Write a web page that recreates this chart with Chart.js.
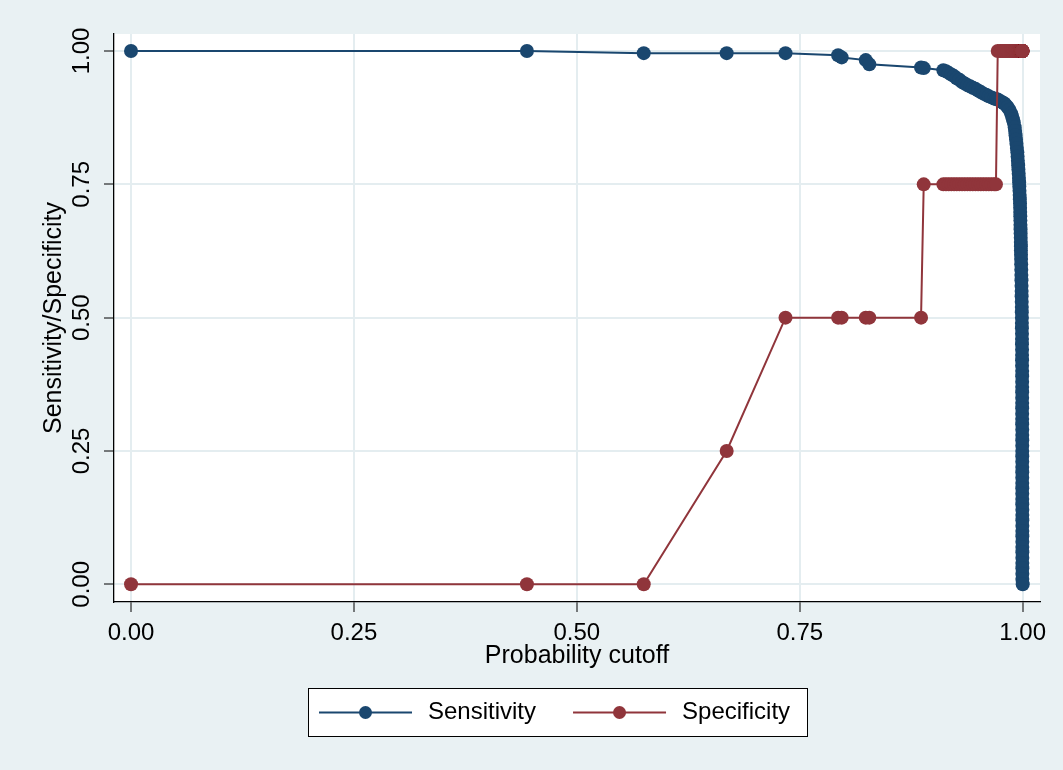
<!DOCTYPE html>
<html>
<head>
<meta charset="utf-8">
<script src="https://cdn.jsdelivr.net/npm/chart.js@4.4.1/dist/chart.umd.min.js"></script>
<style>
  html, body { margin: 0; padding: 0; background: #E9F1F3; }
  #wrap { width: 1063px; height: 770px; }
</style>
</head>
<body>
<div id="wrap"><canvas id="lsensChart" width="1063" height="770"></canvas></div>
<script>
// -------- DATA --------
const cutoffs = [
  0, 0.444, 0.575, 0.668, 0.734, 0.793, 0.797, 0.824, 0.828, 0.886, 0.889,
  // spec = 0.75 run
  0.911, 0.914, 0.917, 0.920, 0.923, 0.926, 0.929, 0.932, 0.935, 0.938,
  0.941, 0.944, 0.947, 0.950, 0.953, 0.956, 0.959, 0.962, 0.965, 0.968, 0.970,
  // spec = 1 run, sensitivity bending down
  0.972, 0.975, 0.977, 0.979, 0.981, 0.983, 0.985, 0.987, 0.988, 0.989, 0.990, 0.991,
  0.9915, 0.992, 0.9925, 0.993, 0.9935, 0.994, 0.9943, 0.9946, 0.9949, 0.9952,
  0.9955, 0.9958, 0.996, 0.9962, 0.9964, 0.9966, 0.9968, 0.997, 0.9971, 0.9972,
  0.9973, 0.9974, 0.9975, 0.9976, 0.9977, 0.9978, 0.9979, 0.998, 0.998, 0.9981,
  0.9982, 0.9983, 0.9984, 0.9985, 0.9986, 0.9987, 0.9988, 0.9988, 0.9989, 0.999,
  0.999, 0.9991,
  // near-vertical drop at cutoff ~1
  0.9991, 0.9991, 0.9992, 0.9992, 0.9992, 0.9993, 0.9993, 0.9993, 0.9993, 0.9994,
  0.9994, 0.9994, 0.9994, 0.9994, 0.9994, 0.9994, 0.9994, 0.9994, 0.9994, 0.9994,
  0.9995, 0.9995, 0.9995, 0.9995, 0.9995, 0.9995, 0.9995, 0.9995, 0.9995, 0.9995,
  0.9995, 0.9995, 0.9995, 0.9995, 0.9995, 0.9996, 0.9996, 0.9996, 0.9996, 0.9996,
  0.9996, 0.9996, 0.9996, 0.9996, 0.9996, 0.9996, 0.9996, 0.9996, 0.9996, 1.0
];

const sensitivity = [
  1.000, 1.000, 0.996, 0.996, 0.996, 0.992, 0.988, 0.983, 0.975, 0.969, 0.968,
  0.964, 0.962, 0.959, 0.956, 0.953, 0.949, 0.946, 0.942, 0.939, 0.936,
  0.934, 0.931, 0.929, 0.926, 0.923, 0.920, 0.918, 0.915, 0.913, 0.911, 0.910,
  0.909, 0.906, 0.904, 0.902, 0.899, 0.895, 0.890, 0.883, 0.878, 0.872, 0.866, 0.857,
  0.850, 0.842, 0.834, 0.826, 0.818, 0.810, 0.802, 0.794, 0.786, 0.778,
  0.770, 0.762, 0.754, 0.746, 0.738, 0.730, 0.722, 0.714, 0.706, 0.698,
  0.690, 0.682, 0.674, 0.666, 0.658, 0.650, 0.642, 0.634, 0.626, 0.618,
  0.610, 0.600, 0.590, 0.580, 0.570, 0.560, 0.550, 0.540, 0.530, 0.520,
  0.510, 0.500,
  0.490, 0.480, 0.470, 0.460, 0.450, 0.440, 0.430, 0.420, 0.410, 0.400,
  0.390, 0.380, 0.370, 0.360, 0.350, 0.340, 0.330, 0.320, 0.310, 0.300,
  0.290, 0.280, 0.270, 0.260, 0.250, 0.240, 0.230, 0.220, 0.210, 0.200,
  0.190, 0.180, 0.170, 0.160, 0.150, 0.140, 0.130, 0.120, 0.110, 0.100,
  0.090, 0.080, 0.070, 0.060, 0.050, 0.040, 0.030, 0.020, 0.010, 0.000
];

const specificity = [
  0, 0, 0, 0.25, 0.5, 0.5, 0.5, 0.5, 0.5, 0.5, 0.75,
  0.75, 0.75, 0.75, 0.75, 0.75, 0.75, 0.75, 0.75, 0.75, 0.75,
  0.75, 0.75, 0.75, 0.75, 0.75, 0.75, 0.75, 0.75, 0.75, 0.75, 0.75,
  1, 1, 1, 1, 1, 1, 1, 1, 1, 1, 1, 1, 1,
  1, 1, 1, 1, 1, 1, 1, 1, 1, 1, 1, 1, 1,
  1, 1, 1, 1, 1, 1, 1, 1, 1, 1, 1, 1, 1,
  1, 1, 1, 1, 1, 1, 1, 1, 1, 1, 1, 1, 1,
  1, 1, 1, 1, 1, 1, 1, 1, 1, 1, 1, 1, 1,
  1, 1, 1, 1, 1, 1, 1, 1, 1, 1, 1, 1, 1,
  1, 1, 1, 1, 1, 1, 1, 1, 1, 1, 1, 1, 1,
  1, 1, 1, 1, 1, 1, 1, 1, 1, 1, 1, 1, 1
];

const axisTicks = [0, 0.25, 0.5, 0.75, 1];
const seriesNames = ['Sensitivity', 'Specificity'];
const seriesColors = ['#1A476F', '#90353B'];

const FONT = "'Liberation Sans', Arial, sans-serif";
const BG = '#E9F1F3';

// -------- PLUGINS --------
// light graph region + white plot region
const backdrop = {
  id: 'backdrop',
  beforeDraw(chart) {
    const { ctx, chartArea: a } = chart;
    ctx.save();
    ctx.fillStyle = BG;
    ctx.fillRect(0, 0, chart.width, chart.height);
    ctx.fillStyle = '#fff';
    ctx.fillRect(a.left, a.top, a.right - a.left, a.bottom - a.top);
    ctx.restore();
  }
};

// Stata style legend: framed box, line with marker in the middle
const boxLegend = {
  id: 'boxLegend',
  afterDraw(chart) {
    const ctx = chart.ctx;
    const left = 308, top = 688, w = 500, h = 49;
    const midY = top + h / 2;
    ctx.save();
    ctx.fillStyle = '#fff';
    ctx.fillRect(left, top, w, h);
    ctx.strokeStyle = '#000';
    ctx.lineWidth = 1;
    ctx.strokeRect(left + 0.5, top + 0.5, w - 1, h - 1);
    ctx.font = '24px ' + FONT;
    ctx.textBaseline = 'middle';
    let x = left + 11;
    chart.data.datasets.forEach(ds => {
      ctx.strokeStyle = ds.borderColor;
      ctx.lineWidth = 2;
      ctx.beginPath();
      ctx.moveTo(x, midY);
      ctx.lineTo(x + 93, midY);
      ctx.stroke();
      ctx.fillStyle = ds.backgroundColor;
      ctx.beginPath();
      ctx.arc(x + 46.5, midY, 6.5, 0, Math.PI * 2);
      ctx.fill();
      ctx.fillStyle = '#000';
      ctx.fillText(ds.label, x + 109, midY);
      x += 109 + ctx.measureText(ds.label).width + 37;
    });
    ctx.restore();
  }
};

// -------- CHART --------
const makeSeries = (values, i, order) => ({
  label: seriesNames[i],
  data: cutoffs.map((c, k) => ({ x: c, y: values[k] })),
  borderColor: seriesColors[i],
  backgroundColor: seriesColors[i],
  borderWidth: 2,
  pointRadius: 7,
  pointHoverRadius: 7,
  pointBorderWidth: 0,
  tension: 0,
  order
});

const gridStyle = { color: '#E4EDF0', lineWidth: 2, tickLength: 10, tickColor: '#000', tickWidth: 1 };

new Chart(document.getElementById('lsensChart'), {
  type: 'line',
  data: {
    datasets: [
      makeSeries(sensitivity, 0, 2),
      makeSeries(specificity, 1, 1)
    ]
  },
  options: {
    responsive: false,
    animation: false,
    events: [],
    layout: { padding: { left: 0, top: 34, right: 23, bottom: 88 } },
    plugins: { legend: { display: false }, tooltip: { enabled: false } },
    scales: {
      x: {
        type: 'linear',
        min: -0.0191,
        max: 1.0194,
        afterBuildTicks: s => { s.ticks = axisTicks.map(v => ({ value: v })); },
        afterFit: s => { s.height = 80; },
        grid: gridStyle,
        border: { color: '#000', width: 1.3 },
        ticks: {
          color: '#000',
          font: { family: FONT, size: 24 },
          padding: 7,
          maxRotation: 0,
          callback: v => v.toFixed(2)
        },
        title: {
          display: true,
          text: 'Probability cutoff',
          color: '#000',
          font: { family: FONT, size: 25 },
          padding: { top: 0, bottom: 11 }
        }
      },
      y: {
        type: 'linear',
        min: -0.0332,
        max: 1.0319,
        afterBuildTicks: s => { s.ticks = axisTicks.map(v => ({ value: v })); },
        afterFit: s => { s.width = 114; },
        grid: gridStyle,
        border: { color: '#000', width: 1.3 },
        ticks: {
          color: '#000',
          font: { family: FONT, size: 24 },
          minRotation: 90,
          maxRotation: 90,
          crossAlign: 'center',
          padding: -2,
          callback: v => v.toFixed(2)
        },
        title: {
          display: true,
          text: 'Sensitivity/Specificity',
          color: '#000',
          font: { family: FONT, size: 25 },
          padding: { top: 39, bottom: 0 }
        }
      }
    }
  },
  plugins: [backdrop, boxLegend]
});
</script>
</body>
</html>
